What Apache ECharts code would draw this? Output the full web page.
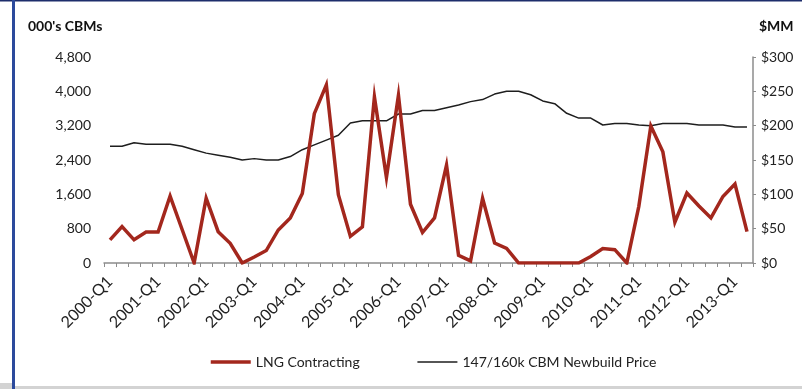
<!DOCTYPE html>
<html>
<head>
<meta charset="utf-8">
<script src="https://cdn.jsdelivr.net/npm/echarts@6/dist/echarts.min.js"></script>
<style>
  html, body { margin: 0; padding: 0; background: #ffffff; }
  #chart { width: 802px; height: 389px; }
</style>
</head>
<body>
<div id="chart"></div>
<script>
// Quarterly periods, 2000-Q1 through 2013-Q2
const firstYear = 2000;
const lastYear = 2013;
const lastQuarter = 2;
const quarters = [];
for (let y = firstYear; y <= lastYear; y++) {
  for (let q = 1; q <= 4; q++) {
    if (y === lastYear && q > lastQuarter) break;
    quarters.push(y + '-Q' + q);
  }
}

// LNG carrier contracting, thousand cubic metres per quarter
const lngContracting = [
  540, 850, 540, 720, 720, 1560, 780, 0, 1510, 730,
  460, 0, 140, 290, 770, 1050, 1620, 3480, 4150, 1590,
  620, 840, 3870, 1990, 3910, 1370, 710, 1050, 2280, 180,
  50, 1510, 465, 340, 0, 0, 0, 0, 0, 0,
  150, 335, 310, 0, 1320, 3190, 2590, 950, 1630, 1330,
  1050, 1550, 1840, 730
];

// 147/160k CBM newbuild price, $ millions
const newbuildPrice = [
  170, 170, 175, 173, 173, 173, 170, 165, 160, 157,
  154, 150, 152, 150, 150, 155, 165, 172, 179, 186,
  204, 207, 207, 207, 217, 217, 222, 222, 226, 230,
  235, 238, 246, 250, 250, 245, 236, 232, 218, 211,
  211, 201, 203, 203, 201, 200, 203, 203, 203, 201,
  201, 201, 198, 198
];

const seriesNames = ['LNG Contracting', '147/160k CBM Newbuild Price'];
const leftAxisName = "000's CBMs";
const rightAxisName = '$MM';

const FONT = 'Lato';
const RED = '#a3271d';
const BLACK = '#1e1e1e';
const chart = echarts.init(document.getElementById('chart'), null, { renderer: 'canvas' });

chart.setOption({
  animation: false,
  backgroundColor: '#ffffff',
  textStyle: { fontFamily: FONT },
  grid: { left: 104, right: 49, top: 57, bottom: 126, containLabel: false },
  graphic: [
    // frame accents
    { type: 'rect', left: 0, top: 0, shape: { width: 802, height: 1.5 }, style: { fill: '#1d2d6b' }, silent: true },
    { type: 'rect', left: 12, top: 0, shape: { width: 3, height: 389 }, style: { fill: '#2c4a9c' }, silent: true },
    { type: 'rect', left: 15, top: 386, shape: { width: 787, height: 3 }, style: { fill: '#d3d3d3' }, silent: true },
    { type: 'rect', left: 0, top: 383, shape: { width: 12, height: 6 }, style: { fill: '#d3d3d3' }, silent: true },
    // axis titles
    { type: 'text', left: 28, top: 19, style: { text: leftAxisName, font: 'bold 14px ' + FONT, fill: '#111111' } },
    { type: 'text', left: 759, top: 19, style: { text: rightAxisName, font: 'bold 14px ' + FONT, fill: '#111111' } }
  ],
  legend: {
    data: [
      { name: seriesNames[0], itemStyle: { color: 'transparent', borderWidth: 0 }, lineStyle: { color: RED, width: 3.5 } },
      { name: seriesNames[1], itemStyle: { color: 'transparent', borderWidth: 0 }, lineStyle: { color: BLACK, width: 1.5 } }
    ],
    left: 204,
    top: 350,
    itemWidth: 40,
    itemHeight: 14,
    itemGap: 57,
    textStyle: { fontSize: 14, color: '#222222', fontFamily: FONT }
  },
  xAxis: {
    type: 'category',
    data: quarters,
    boundaryGap: true,
    axisLine: { lineStyle: { color: '#8c8c8c', width: 1.5 } },
    axisTick: { show: true, interval: 0, length: 4, lineStyle: { color: '#8c8c8c' } },
    axisLabel: {
      interval: 3,
      rotate: 45,
      margin: 16,
      fontSize: 16,
      color: '#222222',
      fontFamily: FONT
    },
    splitLine: { show: false }
  },
  yAxis: [
    {
      type: 'value',
      min: 0,
      max: 4800,
      interval: 800,
      axisLine: { show: false },
      axisTick: { show: false },
      splitLine: { show: false },
      axisLabel: {
        margin: 13,
        fontSize: 14,
        color: '#222222',
        fontFamily: FONT,
        formatter: v => v.toLocaleString('en-US')
      }
    },
    {
      type: 'value',
      position: 'right',
      min: 0,
      max: 300,
      interval: 50,
      axisLine: { show: true, lineStyle: { color: '#8c8c8c', width: 1.5 } },
      axisTick: { show: true, length: 3, lineStyle: { color: '#8c8c8c' } },
      splitLine: { show: false },
      axisLabel: {
        margin: 8,
        fontSize: 14,
        color: '#222222',
        fontFamily: FONT,
        formatter: v => '$' + v
      }
    }
  ],
  series: [
    {
      name: seriesNames[0],
      type: 'line',
      yAxisIndex: 0,
      data: lngContracting,
      symbol: 'none',
      showSymbol: false,
      lineStyle: { color: RED, width: 3.5, join: 'miter' },
      itemStyle: { color: RED },
      z: 3
    },
    {
      name: seriesNames[1],
      type: 'line',
      yAxisIndex: 1,
      data: newbuildPrice,
      symbol: 'none',
      showSymbol: false,
      lineStyle: { color: BLACK, width: 1.5 },
      itemStyle: { color: BLACK },
      z: 2
    }
  ]
});
</script>
</body>
</html>
